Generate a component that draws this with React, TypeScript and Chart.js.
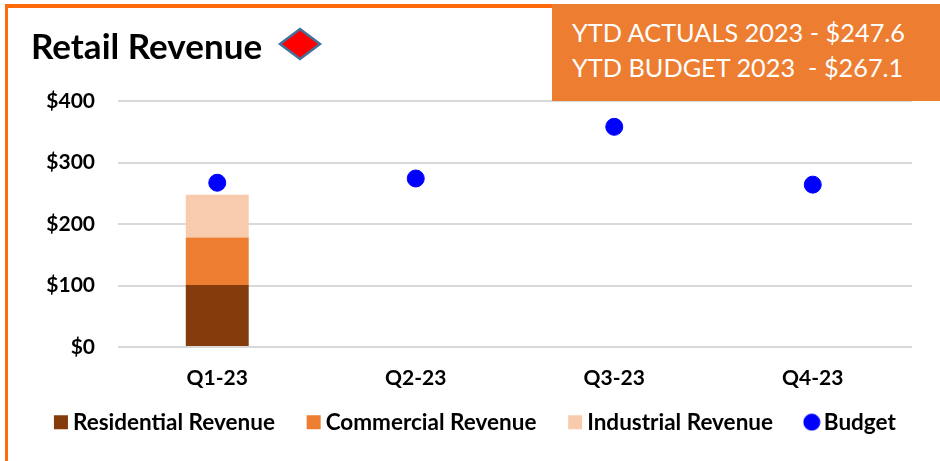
import React, { useEffect, useRef } from "react";
import { Chart, registerables } from "chart.js";

Chart.register(...registerables);

const quarters = ["Q1-23", "Q2-23", "Q3-23", "Q4-23"];
const residential = [101, null, null, null];
const commercial = [77, null, null, null];
const industrial = [69.6, null, null, null];
const budget = [267.1, 274, 358, 264];
const titleText = "Retail Revenue";
const bannerLines = ["YTD ACTUALS 2023 - $247.6", "YTD BUDGET 2023  - $267.1"];

const FONT = "Lato, Carlito, sans-serif";

function legendDot(color: string) {
  const c = document.createElement("canvas");
  c.width = 18;
  c.height = 18;
  const g = c.getContext("2d")!;
  g.fillStyle = color;
  g.beginPath();
  g.arc(9, 9, 8.5, 0, Math.PI * 2);
  g.fill();
  return c;
}

export default function App() {
  const ref = useRef<HTMLCanvasElement>(null);
  useEffect(() => {
    const dot = legendDot("#0000FF");
    const chart = new Chart(ref.current!, {
      type: "bar",
      data: {
        labels: quarters,
        datasets: [
          { type: "line", label: "Budget", data: budget, showLine: false, backgroundColor: "#0000FF", borderColor: "#0000FF", pointRadius: 8.5, pointHoverRadius: 8.5, pointStyle: "circle", order: 0 },
          { label: "Residential Revenue", data: residential, backgroundColor: "#843C0C", stack: "a", order: 1 },
          { label: "Commercial Revenue", data: commercial, backgroundColor: "#ED7D31", stack: "a", order: 1 },
          { label: "Industrial Revenue", data: industrial, backgroundColor: "#F8CBAD", stack: "a", order: 1 },
        ] as any,
      },
      options: {
        responsive: false,
        animation: false,
        datasets: { bar: { barPercentage: 0.317, categoryPercentage: 1 } },
        layout: { padding: { left: 16, right: 0, top: 101, bottom: 17.5 } },
        plugins: {
          tooltip: { enabled: false },
          title: { display: false },
          legend: {
            position: "bottom",
            labels: {
              usePointStyle: true,
              boxWidth: 1.5,
              boxHeight: 14,
              padding: 38,
              color: "#000",
              font: { family: FONT, size: 22.5, weight: "bold" },
              generateLabels(c: any) {
                const order = [1, 2, 3, 0];
                return order.map((i) => {
                  const d = c.data.datasets[i];
                  return {
                    text: d.label,
                    fillStyle: d.backgroundColor,
                    strokeStyle: d.backgroundColor,
                    lineWidth: 0,
                    pointStyle: i === 0 ? dot : "rect",
                    datasetIndex: i,
                    fontColor: "#000",
                  };
                });
              },
            },
          },
        },
        scales: {
          x: {
            stacked: true,
            afterFit(s: any) { s.height = 26; },
            grid: { display: false, drawTicks: false },
            border: { display: false },
            ticks: { color: "#000", padding: -44, mirror: true, font: { family: FONT, size: 21, weight: "bold" } },
          },
          y: {
            stacked: true,
            min: 0,
            max: 400,
            afterFit(s: any) { s.width = 102; },
            grid: { color: "#D9D9D9", lineWidth: 2, drawTicks: false },
            border: { display: false },
            ticks: {
              stepSize: 100,
              color: "#000",
              padding: 23,
              font: { family: FONT, size: 21, weight: "bold" },
              callback: (v: any) => "$" + v,
            },
          },
          spacer: {
            position: "right",
            min: 0,
            max: 400,
            afterFit(s: any) { s.width = 28; },
            grid: { display: false, drawTicks: false },
            border: { display: false },
            ticks: { display: false },
          },
        },
      } as any,
    });
    return () => chart.destroy();
  }, []);

  return (
    <div style={{ position: "absolute", left: 0, top: 0, width: 940, height: 461, overflow: "hidden", background: "#fff" }}>
      <canvas ref={ref} width={940} height={461} style={{ display: "block", position: "absolute", left: 0, top: 0 }} />
      <div style={{ position: "absolute", left: 5, top: 4, width: 547, height: 4, background: "#FF6A0D" }} />
      <div style={{ position: "absolute", left: 5, top: 4, width: 3, height: 457, background: "#FF6A0D" }} />
      <div style={{ position: "absolute", left: 31, top: 24, fontFamily: FONT, fontWeight: "bold", fontSize: 35, lineHeight: "42px", color: "#000", whiteSpace: "pre" }}>{titleText}</div>
      <svg width={46} height={34} style={{ position: "absolute", left: 277, top: 27 }}>
        <polygon points="3,17 23,2 43,17 23,32" fill="#FF0000" stroke="#41719C" strokeWidth={2.5} />
      </svg>
      <div style={{ position: "absolute", left: 552, top: 4, width: 388, height: 97, background: "#ED7D31", color: "#fff", fontFamily: FONT, fontSize: 25.3, lineHeight: "35px", paddingTop: 11, paddingLeft: 20, boxSizing: "border-box", whiteSpace: "pre" }}>
        {bannerLines.map((l) => <div key={l}>{l}</div>)}
      </div>
    </div>
  );
}
